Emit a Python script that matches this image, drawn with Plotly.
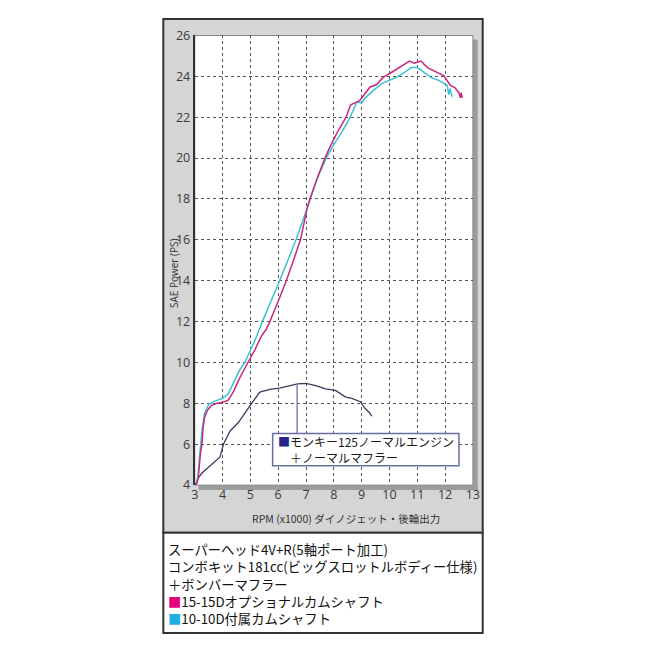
import plotly.graph_objects as go

# ---- data ----
rpm_1515 = [3.05, 3.12, 3.2, 3.26, 3.3, 3.35, 3.45, 3.6, 3.8, 4.0, 4.2, 4.4, 4.6, 4.8, 4.91, 5.16, 5.4, 5.56, 5.7, 6.0,
            6.29, 6.55, 6.8, 7.05, 7.14, 7.4, 7.68, 7.88, 8.1, 8.44, 8.6, 8.71, 8.85, 8.95, 9.12, 9.3, 9.54, 9.77, 10.01,
            10.3, 10.54, 10.72, 10.9, 11.13, 11.37, 11.55, 11.72, 11.96, 12.19, 12.35, 12.5, 12.55, 12.58, 12.62]
ps_1515 = [4.0, 4.3, 5.5, 6.0, 6.8, 7.3, 7.65, 7.9, 8.0, 8.05, 8.15, 8.6, 9.2, 9.75, 10.0, 10.62, 11.3, 11.6, 12.0, 13.0,
           14.0, 15.0, 16.0, 17.6, 18.0, 19.0, 20.0, 20.6, 21.2, 22.0, 22.6, 22.68, 22.75, 22.84, 23.16, 23.48, 23.6, 23.95, 24.14,
           24.4, 24.59, 24.75, 24.65, 24.75, 24.43, 24.3, 24.19, 24.03, 23.56, 23.45, 23.2, 22.95, 23.2, 22.95]

rpm_1010 = [3.05, 3.12, 3.2, 3.27, 3.35, 3.5, 3.7, 4.0, 4.2, 4.4, 4.6, 4.8, 5.01, 5.2, 5.43, 5.75, 6.05, 6.35, 6.64, 6.9,
            7.14, 7.4, 7.73, 7.98, 8.3, 8.59, 8.83, 9.0, 9.1, 9.36, 9.71, 10.0, 10.3, 10.54, 10.78, 11.01, 11.25, 11.49,
            11.78, 12.08, 12.13, 12.18, 12.25]
ps_1010 = [4.0, 4.5, 5.8, 6.8, 7.5, 7.95, 8.1, 8.25, 8.45, 9.0, 9.6, 10.0, 10.62, 11.2, 12.0, 13.0, 14.0, 15.0, 16.0, 17.0,
           18.0, 19.0, 20.0, 20.62, 21.3, 22.0, 22.76, 22.7, 22.9, 23.24, 23.63, 23.8, 23.99, 24.19, 24.43, 24.43, 24.19, 23.95,
           23.8, 23.56, 23.1, 23.4, 23.0]

rpm_normal = [3.02, 3.1, 3.26, 3.67, 3.91, 4.03, 4.27, 4.56, 4.86, 5.09, 5.34, 5.7, 6.05, 6.4, 6.7, 7.0, 7.35, 7.7,
              8.06, 8.41, 8.65, 8.95, 9.12, 9.3, 9.36]
ps_normal = [4.0, 4.3, 4.59, 5.06, 5.38, 6.0, 6.65, 7.05, 7.6, 8.08, 8.55, 8.68, 8.75, 8.84, 8.95, 8.98, 8.87, 8.71,
             8.63, 8.32, 8.24, 8.08, 7.76, 7.52, 7.37]

x_ticks = [3, 4, 5, 6, 7, 8, 9, 10, 11, 12, 13]
y_ticks = [4, 6, 8, 10, 12, 14, 16, 18, 20, 22, 24, 26]

legend_normal = ["モンキー125ノーマルエンジン", "＋ノーマルマフラー"]
desc_lines = ["スーパーヘッド4V+R(5軸ポート加工)",
              "コンボキット181cc(ビッグスロットルボディー仕様)",
              "＋ボンバーマフラー"]
label_1515 = "15-15Dオプショナルカムシャフト"
label_1010 = "10-10D付属カムシャフト"

C_MAG = "#c8287e"
C_CYAN = "#3cc0d4"
C_NAVY = "#3a3a62"
SQ_MAG = "#e4007f"
SQ_CYAN = "#1eaee6"
SQ_NAVY = "#24248a"

# page body has an 8px margin: figure is 634x634 and sits at (8,8)
OFF = 8
W = H = 634
def px(x):
    return (x - OFF) / W
def py(y):
    return 1 - (y - OFF) / H

FONT = "Noto Sans CJK JP"

fig = go.Figure()
fig.add_trace(go.Scatter(x=rpm_normal, y=ps_normal, mode="lines", line=dict(color=C_NAVY, width=1.3), showlegend=False))
fig.add_trace(go.Scatter(x=rpm_1010, y=ps_1010, mode="lines", line=dict(color=C_CYAN, width=1.5), showlegend=False))
fig.add_trace(go.Scatter(x=rpm_1515, y=ps_1515, mode="lines", line=dict(color=C_MAG, width=1.5), showlegend=False))

shapes = []
# outer panel (gray) and bottom white box
shapes.append(dict(type="rect", xref="paper", yref="paper", x0=px(162), x1=px(487), y0=py(538), y1=py(10),
                   fillcolor="#d5d5d5", line=dict(color="#333", width=2), layer="below"))
shapes.append(dict(type="rect", xref="paper", yref="paper", x0=px(162), x1=px(487), y0=py(641), y1=py(538),
                   fillcolor="#ffffff", line=dict(color="#333", width=2), layer="below"))
# drop shadow of plot area
shapes.append(dict(type="rect", xref="paper", yref="paper", x0=px(477), x1=px(482), y0=py(494), y1=py(31),
                   fillcolor="#9c9c9c", line=dict(width=0), layer="below"))
shapes.append(dict(type="rect", xref="paper", yref="paper", x0=px(198), x1=px(482), y0=py(494), y1=py(489),
                   fillcolor="#9c9c9c", line=dict(width=0), layer="below"))
# plot area white
shapes.append(dict(type="rect", xref="paper", yref="paper", x0=px(194), x1=px(477), y0=py(489), y1=py(27),
                   fillcolor="#ffffff", line=dict(color="#888", width=1), layer="below"))

# leader line from normal-engine peak to its label box
i_peak = ps_normal.index(max(ps_normal))
box_x0, box_x1, box_y0, box_y1 = 5.8, 12.5, 4.95, 6.52
shapes.append(dict(type="line", xref="x", yref="y", x0=6.68, x1=6.68, y0=box_y1, y1=ps_normal[i_peak] - 0.03,
                   line=dict(color="#8088a8", width=1.5)))
shapes.append(dict(type="rect", xref="x", yref="y", x0=box_x0, x1=box_x1, y0=box_y0, y1=box_y1,
                   fillcolor="#ffffff", line=dict(color="#6670a0", width=1.5)))

annotations = []
annotations.append(dict(xref="x", yref="y", x=box_x0 + 0.12, y=5.74, xanchor="left", yanchor="middle", showarrow=False,
                        align="left",
                        text=f"<span style='color:{SQ_NAVY}'>■</span>{legend_normal[0]}<br>"
                             f"<span style='color:#ffffff'>■</span>{legend_normal[1]}",
                        font=dict(family=FONT, size=12, color="#1a1a1a")))
# axis titles
annotations.append(dict(xref="paper", yref="paper", x=px(348), y=py(523), xanchor="center", yanchor="middle",
                        showarrow=False, text="RPM (x1000) ダイノジェット・後輪出力",
                        font=dict(family=FONT, size=10.5, color="#333")))
annotations.append(dict(xref="paper", yref="paper", x=px(173), y=py(272), xanchor="center", yanchor="middle",
                        showarrow=False, text="SAE Power (PS)", textangle=-90,
                        font=dict(family="Open Sans", size=10, color="#333")))
# bottom description
texts = desc_lines + [f"<span style='color:{SQ_MAG}'>■</span>{label_1515}",
                      f"<span style='color:{SQ_CYAN}'>■</span>{label_1010}"]
annotations.append(dict(xref="paper", yref="paper", x=px(165), y=py(591), xanchor="left", yanchor="middle",
                        showarrow=False, align="left", text="<br>".join(texts),
                        font=dict(family=FONT, size=13.3, color="#111")))

fig.update_layout(
    width=W, height=H, margin=dict(l=0, r=0, t=0, b=0),
    paper_bgcolor="#ffffff", plot_bgcolor="rgba(0,0,0,0)",
    shapes=shapes, annotations=annotations,
    xaxis=dict(domain=[px(194), px(477)], range=[3, 13], tickvals=x_ticks, ticktext=[str(v) for v in x_ticks],
               showgrid=True, gridcolor="#555", griddash="dot", gridwidth=1, zeroline=False,
               showline=False, ticks="", tickfont=dict(family="Open Sans", size=12.5, color="#3a3a3a")),
    yaxis=dict(domain=[py(489), py(27)], range=[4, 26], tickvals=y_ticks, ticktext=[str(v) for v in y_ticks],
               showgrid=True, gridcolor="#555", griddash="dot", gridwidth=1, zeroline=False,
               showline=True, linecolor="#333", linewidth=2, ticks="",
               tickfont=dict(family="Open Sans", size=12.5, color="#3a3a3a")),
)

fig.write_html("out.html")
